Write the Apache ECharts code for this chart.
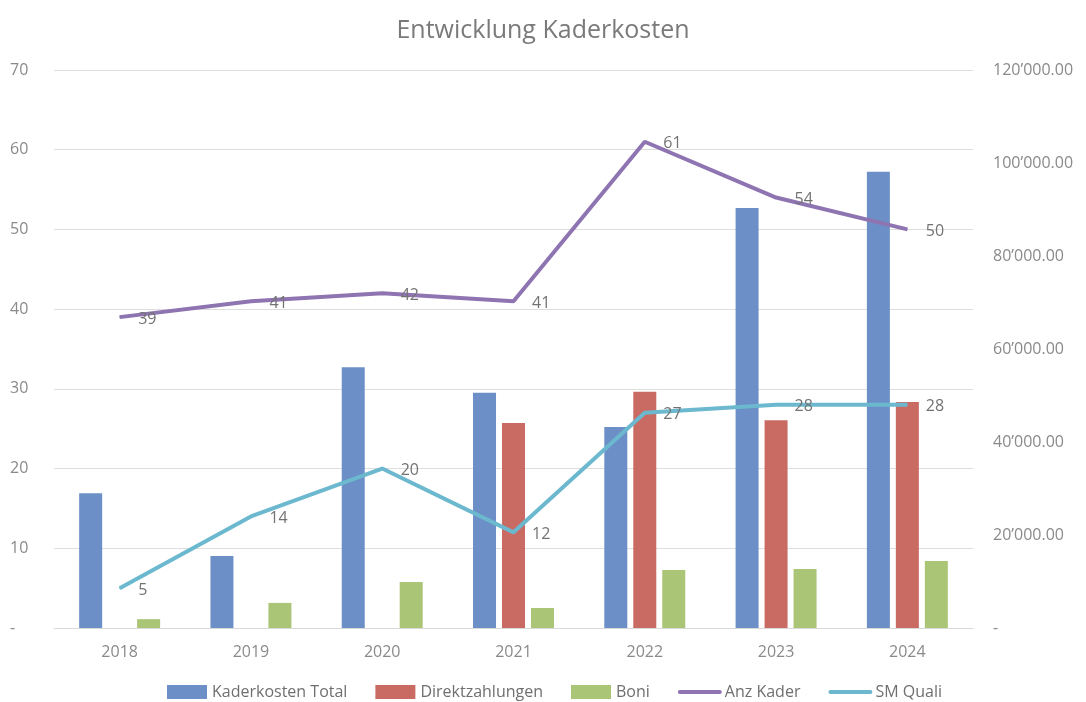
<!DOCTYPE html>
<html>
<head>
<meta charset="UTF-8">
<title>Entwicklung Kaderkosten</title>
<script src="https://cdn.jsdelivr.net/npm/echarts@6/dist/echarts.min.js"></script>
<style>
  html, body { margin: 0; padding: 0; background: #fff; }
  #chart { width: 1086px; height: 702px; }
</style>
</head>
<body>
<div id="chart"></div>
<script>
// data
var years = ['2018', '2019', '2020', '2021', '2022', '2023', '2024'];
var kaderkostenTotal = [29000, 15500, 56100, 50600, 43200, 90300, 98100];
var direktzahlungen = [null, null, null, 44100, 50800, 44700, 48600];
var boni = [1900, 5400, 9900, 4300, 12500, 12700, 14400];
var anzKader = [39, 41, 42, 41, 61, 54, 50];
var smQuali = [5, 14, 20, 12, 27, 28, 28];

var font = 'Open Sans';
var grey = '#8a8a8a';

function fmtMoney(v) {
  if (v === 0) return '-';
  var s = Math.round(v).toString().replace(/\B(?=(\d{3})+(?!\d))/g, '\u2019');
  return s + '.00';
}

var lineLabel = {
  show: true,
  position: 'right',
  distance: 18,
  offset: [0, 2],
  color: '#737373',
  fontFamily: font,
  fontSize: 16
};

var lineLegendItem = function (name, color) {
  return {
    name: name,
    itemStyle: { color: 'rgba(0,0,0,0)', borderWidth: 0, opacity: 0 },
    lineStyle: { color: color, width: 4, cap: 'round' }
  };
};

var chart = echarts.init(document.getElementById('chart'));
chart.setOption({
  animation: false,
  title: {
    text: 'Entwicklung Kaderkosten',
    left: 'center',
    top: 13,
    textStyle: { color: '#7a7a7a', fontFamily: font, fontSize: 25, fontWeight: 'normal' }
  },
  legend: {
    top: 679,
    left: 162,
    itemWidth: 40,
    itemHeight: 14,
    itemGap: 28,
    textStyle: { color: '#6f6f6f', fontFamily: font, fontSize: 16 },
    data: [
      { name: 'Kaderkosten Total', icon: 'rect' },
      { name: 'Direktzahlungen', icon: 'rect' },
      { name: 'Boni', icon: 'rect' },
      lineLegendItem('Anz Kader', '#8f74b2'),
      lineLegendItem('SM Quali', '#6bb8cf')
    ]
  },
  grid: { left: 54, right: 113, top: 70, bottom: 74 },
  xAxis: {
    type: 'category',
    data: years,
    axisLine: { lineStyle: { color: '#d9d9d9' } },
    axisTick: { show: false },
    axisLabel: { color: grey, fontFamily: font, fontSize: 16, margin: 16 }
  },
  yAxis: [
    {
      type: 'value',
      min: 0, max: 70, interval: 10,
      position: 'left',
      axisLine: { show: false },
      axisTick: { show: false },
      axisLabel: {
        color: grey, fontFamily: font, fontSize: 16, margin: 44,
        align: 'left',
        formatter: function (v) { return v === 0 ? '-' : v; }
      },
      splitLine: { lineStyle: { color: '#dedede', width: 1.2 } }
    },
    {
      type: 'value',
      min: 0, max: 120000, interval: 20000,
      position: 'right',
      axisLine: { show: false },
      axisTick: { show: false },
      axisLabel: { color: grey, fontFamily: font, fontSize: 16, margin: 20, formatter: fmtMoney },
      splitLine: { show: false }
    }
  ],
  series: [
    {
      name: 'Kaderkosten Total', type: 'bar', yAxisIndex: 1,
      data: kaderkostenTotal, barWidth: 23, barGap: '26%',
      itemStyle: { color: '#6b8fc6' }
    },
    {
      name: 'Direktzahlungen', type: 'bar', yAxisIndex: 1,
      data: direktzahlungen, barWidth: 23, barGap: '26%',
      itemStyle: { color: '#c96b63' }
    },
    {
      name: 'Boni', type: 'bar', yAxisIndex: 1,
      data: boni, barWidth: 23, barGap: '26%',
      itemStyle: { color: '#aac576' }
    },
    {
      name: 'Anz Kader', type: 'line', yAxisIndex: 0,
      data: anzKader, symbol: 'circle', symbolSize: 1,
      lineStyle: { color: '#8f74b2', width: 4 },
      itemStyle: { color: '#8f74b2' },
      label: lineLabel
    },
    {
      name: 'SM Quali', type: 'line', yAxisIndex: 0,
      data: smQuali, symbol: 'circle', symbolSize: 1,
      lineStyle: { color: '#6bb8cf', width: 4 },
      itemStyle: { color: '#6bb8cf' },
      label: lineLabel
    }
  ]
});
</script>
</body>
</html>
